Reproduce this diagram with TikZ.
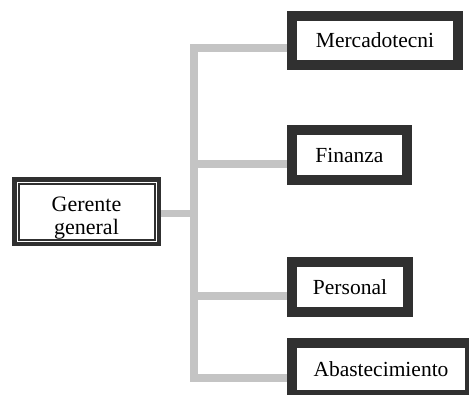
\documentclass[tikz,border=0pt]{standalone}
\usepackage{fontspec}
\setmainfont{Liberation Serif}
\definecolor{boxdark}{HTML}{303030}
\definecolor{conngray}{HTML}{C4C4C4}
\begin{document}
\begin{tikzpicture}[x=1pt,y=-1pt,
  unitbox/.style={draw=boxdark, line width=10pt, fill=white, inner sep=0pt,
    font=\fontsize{21.5}{25}\selectfont, text=black},
  headbox/.style={draw=boxdark, line width=4.5pt, fill=white, inner sep=0pt,
    align=center, minimum width=144.5pt, minimum height=64.5pt,
    text height=45pt, text depth=0pt,
    font=\fontsize{22}{23}\selectfont, text=black},
  conn/.style={draw=conngray, line width=8pt},
]
\useasboundingbox (0,0) rectangle (469,394);
\clip (0,0) rectangle (469,394);
\fill[white] (0,0) rectangle (469,394);

% head of the organisation
\node[headbox] (ger) at (86.5,211.5) {Gerente\\general};
\draw[boxdark, line width=2pt]
  ([xshift=6.5pt,yshift=-6.5pt]ger.north west) rectangle
  ([xshift=-6.5pt,yshift=6.5pt]ger.south east);

% departments
\node[unitbox, minimum width=166pt, minimum height=49pt] (merc) at (375,40.5) {Mercadotecni};
\node[unitbox, minimum width=115pt, minimum height=50pt] (fin) at (349.5,155) {Finanza};
\node[unitbox, minimum width=116pt, minimum height=50pt] (pers) at (350,287) {Personal};
\node[unitbox, minimum width=178pt, minimum height=52pt] (abas) at (381,369) {Abastecimiento};

% branch points on the department boxes
\coordinate (merc-in) at ([yshift=-7.5pt]merc.west);
\coordinate (fin-in) at ([yshift=-9pt]fin.west);
\coordinate (pers-in) at ([yshift=-9pt]pers.west);
\coordinate (abas-in) at ([yshift=-9pt]abas.west);
\coordinate (ger-out) at ([yshift=-1.5pt]ger.east);
\coordinate (trunk) at (194,213);

% connectors
\draw[conn, line width=7pt] (ger-out) -- (trunk);
\draw[conn] (merc-in) -| (trunk) |- (abas-in);
\draw[conn] (trunk |- fin-in) -- (fin-in);
\draw[conn] (trunk |- pers-in) -- (pers-in);
\end{tikzpicture}
\end{document}
